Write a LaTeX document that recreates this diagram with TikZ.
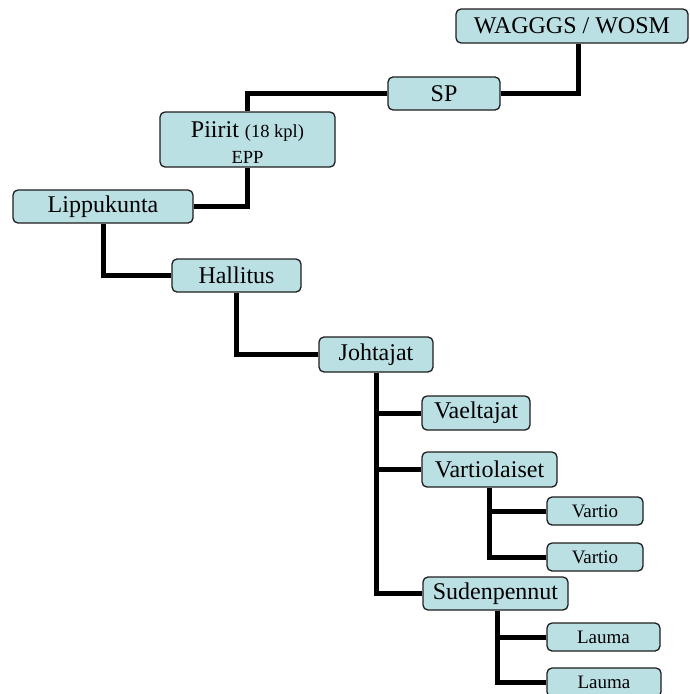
\documentclass[tikz,border=0pt]{standalone}
\usepackage{fontspec}
\setmainfont{Liberation Serif}
\usetikzlibrary{backgrounds}
\definecolor{boxfill}{RGB}{187,224,228}
\definecolor{boxline}{RGB}{30,30,30}
\tikzset{
  orgbox/.style={draw=boxline, line width=1.3pt, fill=boxfill, rounded corners=5pt,
    inner sep=0pt, font=\fontsize{24}{26}\selectfont, text=black},
  smallbox/.style={orgbox, font=\fontsize{19}{22}\selectfont},
  conn/.style={draw=black, line width=5pt, line cap=butt, line join=miter}
}
\begin{document}
\begin{tikzpicture}[x=1pt,y=-1pt]
\useasboundingbox (0,0) rectangle (689,694);
\node[orgbox, minimum width=232pt, minimum height=34pt] (w) at (572,26) {WAGGGS / WOSM};
\node[orgbox, minimum width=112pt, minimum height=33pt] (sp) at (444,93.5) {SP};
\node[orgbox, minimum width=175pt, minimum height=55pt, align=center] (piirit) at (247.5,139.5)
  {\rule{0pt}{22pt}Piirit {\fontsize{18.5}{20}\selectfont(18 kpl)}\\[0pt]{\fontsize{18.5}{20}\selectfont EPP}};
\node[orgbox, minimum width=180pt, minimum height=33pt] (lk) at (103,206.5) {Lippukunta};
\node[orgbox, minimum width=129pt, minimum height=33pt] (hal) at (236.5,275.5) {Hallitus};
\node[orgbox, minimum width=114pt, minimum height=35pt] (joh) at (376,354.5) {Johtajat};
\node[orgbox, minimum width=108pt, minimum height=34pt] (vae) at (476,413) {Vaeltajat};
\node[orgbox, minimum width=135pt, minimum height=35pt] (var) at (489.5,469.5) {Vartiolaiset};
\node[smallbox, minimum width=96pt, minimum height=28pt] (v1) at (595,511) {Vartio};
\node[smallbox, minimum width=96pt, minimum height=28pt] (v2) at (595,557) {Vartio};
\node[orgbox, minimum width=145pt, minimum height=33pt] (sud) at (495.5,593.5) {Sudenpennut};
\node[smallbox, minimum width=113pt, minimum height=28pt] (l1) at (603.5,637) {Lauma};
\node[smallbox, minimum width=114pt, minimum height=29pt] (l2) at (604,682.5) {Lauma};
\begin{scope}[on background layer]
\draw[conn] ([xshift=6pt]w.south) |- (sp.east);
\draw[conn] (sp.west) -| (piirit.north);
\draw[conn] (piirit.south) |- (lk.east);
\draw[conn] (lk.south) |- (hal.west);
\draw[conn] (hal.south) |- (joh.west);
\draw[conn] (joh.south) |- (vae.west);
\draw[conn] (joh.south) |- (var.west);
\draw[conn] (joh.south) |- (sud.west);
\draw[conn] (var.south) |- (v1.west);
\draw[conn] (var.south) |- (v2.west);
\draw[conn] ([xshift=1.5pt]sud.south) |- (l1.west);
\draw[conn] ([xshift=1.5pt]sud.south) |- (l2.west);
\end{scope}
\end{tikzpicture}
\end{document}
